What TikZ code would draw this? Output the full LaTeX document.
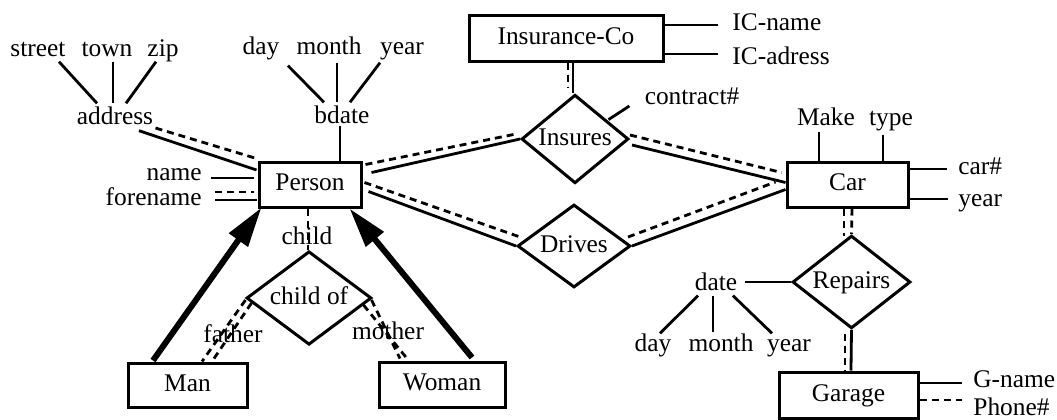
\documentclass[tikz,border=0pt]{standalone}
\usepackage{fontspec}
\setmainfont{Liberation Serif}
\usetikzlibrary{shapes.geometric,arrows.meta,calc}

\begin{document}
\begin{tikzpicture}[x=0.5pt, y=-0.5pt,
    every node/.style={font=\fontsize{12.7}{15}\selectfont, text height=0.68em, text depth=0.25em, inner sep=0pt},
    entity/.style={draw, line width=1.5pt, rectangle, text depth=0.08em},
    relship/.style={draw, line width=1.5pt, diamond, text depth=0.08em},
    link/.style={line width=1.4pt},
    dlink/.style={line width=1.4pt, dash pattern=on 3.5pt off 2.5pt},
    isa/.style={line width=3pt, -{Triangle[length=20pt,width=11pt]}}]
    \useasboundingbox (0,0) rectangle (1057,419);

    % entities
    \node[entity, minimum width=51pt, minimum height=22.5pt] (person) at (310,184.5) {Person};
    \node[entity, minimum width=97pt, minimum height=23pt] (insco) at (566,38) {Insurance-Co};
    \node[entity, minimum width=60.5pt, minimum height=22.5pt] (car) at (847.5,184.5) {Car};
    \node[entity, minimum width=59.5pt, minimum height=22pt] (man) at (187.5,385) {Man};
    \node[entity, minimum width=63pt, minimum height=22.5pt] (woman) at (442,384.5) {Woman};
    \node[entity, minimum width=69.5pt, minimum height=23pt] (garage) at (848.5,395) {Garage};

    % relationships
    \node[relship, minimum width=53.5pt, minimum height=31pt] (insures) at (575,139) {Insures};
    \node[relship, minimum width=56.5pt, minimum height=28pt] (drives) at (574,246) {Drives};
    \node[relship, minimum width=62.5pt, minimum height=32pt] (childof) at (309,298) {child of};
    \node[relship, minimum width=59pt, minimum height=33.5pt] (repairs) at (851.5,282) {Repairs};

    % attributes
    \node (street) at (38,52) {street};
    \node (town) at (107,52) {town};
    \node (zip) at (163,52) {zip};
    \node (address) at (115,120) {address};
    \node (day1) at (261,50) {day};
    \node (month1) at (329,50) {month};
    \node (year1) at (402,50) {year};
    \node (bdate) at (342,119) {bdate};
    \node[anchor=east] (name) at (202,176) {name};
    \node[anchor=east] (forename) at (202,201) {forename};
    \node[anchor=west] (icname) at (732,26) {IC-name};
    \node[anchor=west] (icadress) at (732,60) {IC-adress};
    \node (contract) at (692,100) {contract\#};
    \node (make) at (826,121) {Make};
    \node (type) at (891,121) {type};
    \node[anchor=west] (carno) at (958,170) {car\#};
    \node[anchor=west] (year2) at (958,202) {year};
    \node (date) at (716,286) {date};
    \node (day2) at (653,347) {day};
    \node (month2) at (721,347) {month};
    \node (year3) at (789,347) {year};
    \node[anchor=west] (gname) at (973,383) {G-name};
    \node[anchor=west] (phone) at (973,411) {Phone\#};
    \node (child) at (307,240) {child};
    \node (father) at (233,338) {father};
    \node (mother) at (388,335) {mother};

    % person attributes
    \draw[link] ($(street.south)+(21,0)$) -- ($(address.north)+(-18,-7)$);
    \draw[link] ($(town.south)+(6,0)$) -- ($(address.north)+(-2,-7)$);
    \draw[link] ($(zip.south)+(-7,0)$) -- ($(address.north)+(11,-7)$);
    \draw[dlink] ($(address.east)+(2,8)$) -- ($(person.north west)+(-1,-2)$);
    \draw[link] ($(address.south)+(24,1)$) -- ($(person.west)+(-1,-14.5)$);
    \draw[link] ($(day1.south)+(27,6)$) -- ($(bdate.north)+(-18,-7)$);
    \draw[link] ($(month1.south)+(8,3)$) -- ($(bdate.north)+(-5,-7)$);
    \draw[link] ($(year1.south)+(-22,3)$) -- ($(bdate.north)+(8,-7)$);
    \draw[link] ($(bdate.south)+(-2,-3)$) -- ($(person.north)+(30,0)$);
    \draw[link] ($(name.east)+(9,2)$) -- ($(person.west)+(-4,-6.5)$);
    \draw[dlink] ($(forename.east)+(13,-9)$) -- ($(person.west)+(-4,7.5)$);
    \draw[link] ($(forename.east)+(13,-1)$) -- ($(person.west)+(-1,15.5)$);

    % insurance
    \draw[link] ($(insco.east)+(0,-13)$) -- ($(icname.west)+(-14,-1)$);
    \draw[link] ($(insco.east)+(0,16)$) -- ($(icadress.west)+(-14,-6)$);
    \draw[link] ($(insco.south)+(7,0)$) -- ($(insures.north)+(-2,0)$);
    \draw[dlink] ($(insco.south)+(2,0)$) -- ($(insures.north)+(-7,-5)$);
    \draw[link] ($(contract.west)+(-15,6)$) -- ($(insures.north east)+(6,3.5)$);

    % person - car
    \draw[dlink] ($(person.east)+(3,-20)$) -- ($(insures.west)+(-4,-5)$);
    \draw[link] ($(person.east)+(9,-12)$) -- (insures.west);
    \draw[dlink] ($(person.east)+(2,-2)$) -- ($(drives.west)+(4,-9)$);
    \draw[link] ($(person.east)+(6,7)$) -- (drives.west);
    \draw[dlink] ($(insures.east)+(0,-4)$) -- ($(car.west)+(-4,-12)$);
    \draw[link] ($(insures.east)+(2,6)$) -- ($(car.west)+(0,-2)$);
    \draw[dlink] ($(drives.east)+(-4,-9)$) -- ($(car.west)+(-10,-2.5)$);
    \draw[link] (drives.east) -- ($(car.west)+(0,5)$);

    % car attributes
    \draw[link] ($(make.south)+(-7,1)$) -- ($(car.north)+(-28.5,0)$);
    \draw[link] ($(type.south)+(-8,4)$) -- ($(car.north)+(35.5,0)$);
    \draw[link] ($(car.east)+(0,-15.5)$) -- ($(carno.west)+(-11,-1)$);
    \draw[link] ($(car.east)+(0,14.5)$) -- ($(year2.west)+(-10,-3)$);

    % repairs
    \draw[dlink] ($(car.south)+(-3.5,0)$) -- ($(repairs.north)+(-7.5,2)$);
    \draw[dlink] ($(car.south)+(4.5,0)$) -- (repairs.north);
    \draw[dlink] ($(repairs.south)+(-6.5,4)$) -- ($(garage.north)+(-3.5,0)$);
    \draw[link] (repairs.south) -- ($(garage.north)+(2.5,0)$);
    \draw[link] ($(date.east)+(7,-4)$) -- (repairs.west);
    \draw[link] ($(date.south)+(-18,0)$) -- ($(day2.north)+(7,-4)$);
    \draw[link] ($(date.south)+(-3,0)$) -- ($(month2.north)+(-8,-5)$);
    \draw[link] ($(date.south)+(17,0)$) -- ($(year3.north)+(-17,-4)$);
    \draw[link] ($(garage.east)+(0,-12)$) -- ($(gname.west)+(-11,0)$);
    \draw[dlink] ($(garage.east)+(0,5)$) -- ($(phone.west)+(-11,-11)$);

    % child of
    \draw[dlink] ($(person.south)+(-2,0)$) -- ($(childof.north)+(-1,0)$);
    \draw[dlink] ($(childof.west)+(0.5,2)$) -- ($(man.north)+(14.5,0)$);
    \draw[dlink] ($(childof.west)+(6.5,5)$) -- ($(man.north)+(24.5,0)$);
    \draw[dlink] ($(childof.east)+(-1.5,2)$) -- ($(woman.north)+(-42,-2)$);
    \draw[dlink] ($(childof.east)+(-9.5,7)$) -- ($(woman.north)+(-35,-2)$);

    % isa arrows
    \draw[isa] ($(man.north)+(-34.5,-1)$) -- ($(person.south west)+(4,-1)$);
    \draw[isa] ($(woman.north)+(30,-3)$) -- ($(person.south east)+(-13,0)$);
\end{tikzpicture}
\end{document}
